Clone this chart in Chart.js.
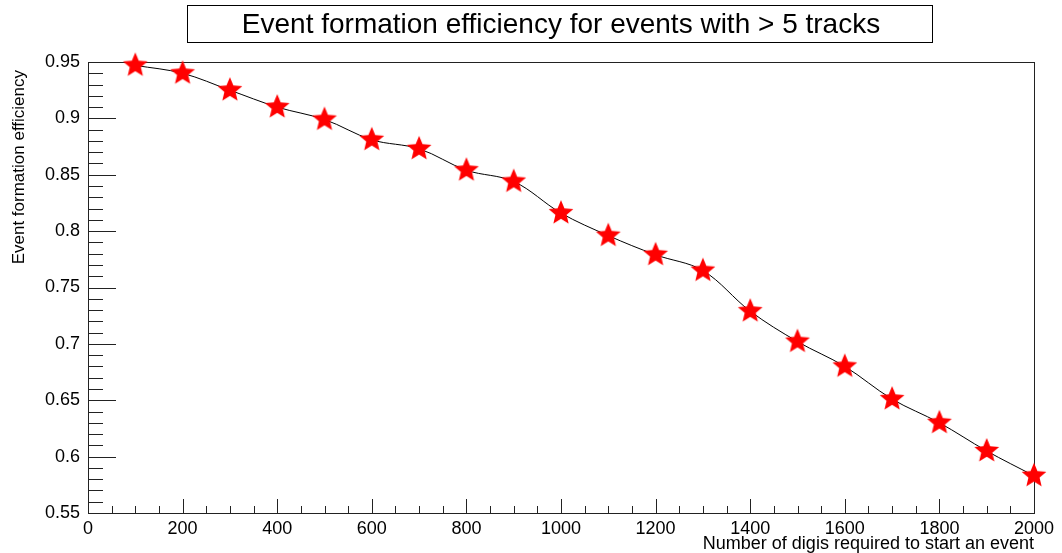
<!DOCTYPE html>
<html>
<head>
<meta charset="utf-8">
<script src="https://cdn.jsdelivr.net/npm/chart.js@4/dist/chart.umd.min.js"></script>
<style>
  html, body { margin: 0; padding: 0; background: #fff; }
  #wrap { width: 1062px; height: 553px; }
</style>
</head>
<body>
<div id="wrap"><canvas id="chart_efficiency"></canvas></div>
<script>
// values
var digisRequired = [100, 200, 300, 400, 500, 600, 700, 800, 900, 1000,
                     1100, 1200, 1300, 1400, 1500, 1600, 1700, 1800, 1900, 2000];
var efficiency = [0.947, 0.940, 0.925, 0.910, 0.899, 0.881, 0.873, 0.854, 0.844, 0.816,
                  0.796, 0.779, 0.765, 0.729, 0.702, 0.680, 0.651, 0.630, 0.605, 0.583];

var titleText = 'Event formation efficiency for events with > 5 tracks';
var xTitle = 'Number of digis required to start an event';
var yTitle = 'Event formation efficiency';

var FONT = '"Liberation Sans", Arial, Helvetica, sans-serif';

// filled 5-point star, like ROOT marker 29
function makeStar(r) {
    var c = document.createElement('canvas');
    var s = Math.ceil(r * 2 + 2);
    c.width = s; c.height = s;
    var g = c.getContext('2d');
    var inner = r * 0.45;
    g.beginPath();
    for (var i = 0; i < 10; i++) {
        var rad = (i % 2 === 0) ? r : inner;
        var a = -Math.PI / 2 + i * Math.PI / 5;
        var px = s / 2 + rad * Math.cos(a), py = s / 2 + rad * Math.sin(a);
        if (i === 0) g.moveTo(px, py); else g.lineTo(px, py);
    }
    g.closePath();
    g.fillStyle = '#ff0000';
    g.fill();
    return c;
}
var star = makeStar(13);

var points = digisRequired.map(function (x, i) { return {x: x, y: efficiency[i]}; });

var rootFrame = {
    id: 'rootFrame',
    beforeDraw: function (chart) {
        var ctx = chart.ctx;
        ctx.save();
        ctx.fillStyle = 'white';
        ctx.fillRect(0, 0, chart.width, chart.height);
        ctx.restore();
    },
    beforeDatasetsDraw: function (chart) {
        var ctx = chart.ctx, a = chart.chartArea;
        var xs = chart.scales.x, ys = chart.scales.y;
        ctx.save();
        ctx.strokeStyle = '#222';
        ctx.lineWidth = 1;
        ctx.strokeRect(Math.round(a.left) + 0.5, Math.round(a.top) + 0.5,
                       Math.round(a.right - a.left), Math.round(a.bottom - a.top));
        ctx.beginPath();
        // y ticks, every 0.01, major every 0.05
        for (var k = 55; k <= 95; k++) {
            var py = Math.round(ys.getPixelForValue(k / 100)) + 0.5;
            var len = (k % 5 === 0) ? 28 : 15;
            ctx.moveTo(a.left, py); ctx.lineTo(a.left + len, py);
        }
        // x ticks, every 50, major every 200
        for (var v = 0; v <= 2000; v += 50) {
            var px = Math.round(xs.getPixelForValue(v)) + 0.5;
            var l = (v % 200 === 0) ? 14 : 7;
            ctx.moveTo(px, a.bottom); ctx.lineTo(px, a.bottom - l);
        }
        ctx.stroke();
        ctx.restore();
    },
    afterDraw: function (chart) {
        var ctx = chart.ctx, a = chart.chartArea;
        ctx.save();
        // title box
        ctx.fillStyle = 'white';
        ctx.fillRect(187, 5, 745, 37);
        ctx.strokeStyle = '#000';
        ctx.lineWidth = 1;
        ctx.strokeRect(187.5, 5.5, 745, 37);
        ctx.fillStyle = '#000';
        ctx.font = '28px ' + FONT;
        ctx.textAlign = 'center';
        ctx.textBaseline = 'alphabetic';
        ctx.fillText(titleText, 561, 33);
        // axis titles
        ctx.font = '18px ' + FONT;
        ctx.textAlign = 'right';
        ctx.fillText(xTitle, a.right, 549);
        ctx.translate(24, 70);
        ctx.rotate(-Math.PI / 2);
        ctx.font = '17px ' + FONT;
        ctx.fillText(yTitle, 0, 0);
        ctx.restore();
    }
};

var chart_efficiency = new Chart(document.getElementById('chart_efficiency'), {
    type: 'line',
    data: {
        datasets: [{
            label: 'efficiency',
            data: points,
            borderColor: '#000',
            borderWidth: 1,
            tension: 0.35,
            pointStyle: star,
            pointRadius: 13,
            pointHoverRadius: 13,
            clip: false
        }]
    },
    options: {
        animation: false,
        responsive: true,
        maintainAspectRatio: false,
        layout: { padding: { top: 62, right: 28, left: 0, bottom: 0 } },
        plugins: {
            legend: { display: false },
            title: { display: false },
            tooltip: { enabled: false }
        },
        scales: {
            x: {
                type: 'linear',
                min: 0,
                max: 2000,
                grid: { display: false, drawTicks: false },
                border: { display: false },
                ticks: {
                    stepSize: 200,
                    padding: 5,
                    maxRotation: 0,
                    color: '#000',
                    font: { family: FONT, size: 18 },
                    callback: function (value) { return String(value); }
                },
                afterFit: function (scale) { scale.height = 40; }
            },
            y: {
                type: 'linear',
                min: 0.55,
                max: 0.95,
                grid: { display: false, drawTicks: false },
                border: { display: false },
                ticks: {
                    stepSize: 0.05,
                    padding: 8,
                    color: '#000',
                    font: { family: FONT, size: 18 },
                    callback: function (value) { return String(+value.toFixed(2)); }
                },
                afterFit: function (scale) { scale.width = 88; }
            }
        }
    },
    plugins: [rootFrame]
});
</script>
</body>
</html>
